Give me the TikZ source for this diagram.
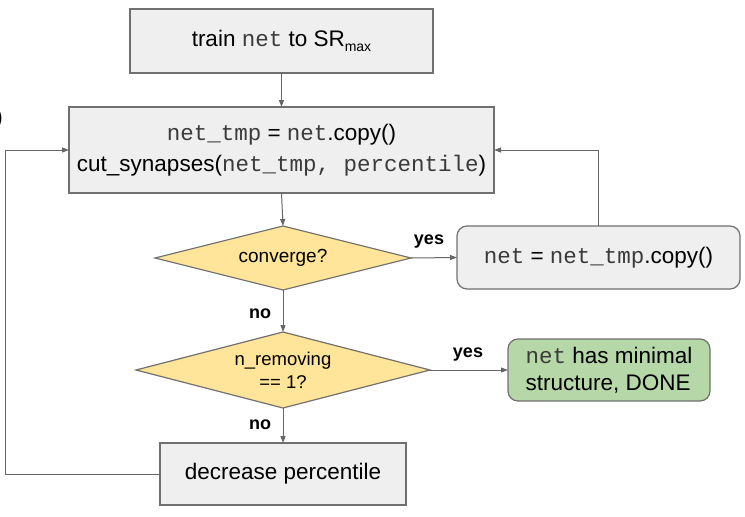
\documentclass[tikz,border=0pt]{standalone}
\usepackage{fontspec}
\setmainfont{Liberation Sans}
\setmonofont{Liberation Mono}
\usetikzlibrary{shapes.geometric,arrows.meta}
\definecolor{boxfill}{HTML}{EFEFEF}
\definecolor{boxline}{HTML}{707070}
\definecolor{linegray}{HTML}{666666}
\definecolor{diafill}{HTML}{FFE599}
\definecolor{greenfill}{HTML}{B6D7A8}
\definecolor{monocol}{HTML}{3A3A3A}
\newcommand{\mono}[1]{{\color{monocol}\texttt{#1}}}
\tikzset{
  base/.style={draw=boxline, line width=1.2pt, inner sep=0pt, outer sep=0pt, font=\fontsize{22.5}{31}\selectfont},
  procbox/.style={base, fill=boxfill, rectangle},
  roundbox/.style={base, fill=boxfill, rectangle, rounded corners=10pt},
  donebox/.style={base, fill=greenfill, rectangle, rounded corners=10pt},
  decision/.style={base, fill=diafill, diamond, font=\fontsize{19}{22}\selectfont},
  conn/.style={draw=linegray, line width=1pt, -{Triangle[length=7pt,width=5pt]}},
  lbl/.style={font=\fontsize{18}{18}\selectfont\bfseries, inner sep=0pt}
}
\begin{document}
\begin{tikzpicture}[x=1pt,y=-1pt]
\useasboundingbox (0,0) rectangle (745,517);
\node[font=\fontsize{22.5}{27}\selectfont, inner sep=0pt] (stray) at (-1,119) {)};
\node[procbox, minimum width=303pt, minimum height=64pt] (train) at (281.5,41)
  {train \mono{net} to SR\raisebox{-0.4ex}{\fontsize{14}{14}\selectfont max}};
\node[procbox, minimum width=425pt, minimum height=86pt, align=center] (cut) at (281.5,150)
  {\mono{net\_tmp} = \mono{net}.copy()\\cut\_synapses(\mono{net\_tmp, percentile})};
\node[decision, minimum width=256pt, minimum height=64pt, aspect=4] (conv) at (283,258) {converge?};
\node[roundbox, minimum width=283pt, minimum height=63pt] (copy) at (598.5,257.5)
  {\mono{net} = \mono{net\_tmp}.copy()};
\node[decision, minimum width=294pt, minimum height=76pt, aspect=3.87, align=center,
  font=\fontsize{18.5}{23}\selectfont] (nrem) at (283,370) {n\_removing\\== 1?};
\node[donebox, minimum width=202pt, minimum height=62pt, align=left,
  font=\fontsize{22.5}{27}\selectfont] (done) at (609,370)
  {\mono{net} has minimal\\structure, DONE};
\node[procbox, minimum width=246pt, minimum height=62pt] (dec) at (283,474) {decrease percentile};

\draw[conn] (train.south) -- (cut.north);
\draw[conn] (cut.south) -- (conv.north);
\draw[conn] (conv.east) -- (copy.west);
\draw[conn] (copy.north) |- (cut.east);
\draw[conn] (conv.south) -- (nrem.north);
\draw[conn] (nrem.east) -- (done.west);
\draw[conn] (nrem.south) -- (dec.north);
\draw[conn] (dec.west) -- ++(-155,0) |- (cut.west);

\node[lbl] (yes1) at (429,242) {yes};
\node[lbl] (no1) at (260,314) {no};
\node[lbl] (yes2) at (468,355) {yes};
\node[lbl] (no2) at (260,425) {no};
\end{tikzpicture}
\end{document}
